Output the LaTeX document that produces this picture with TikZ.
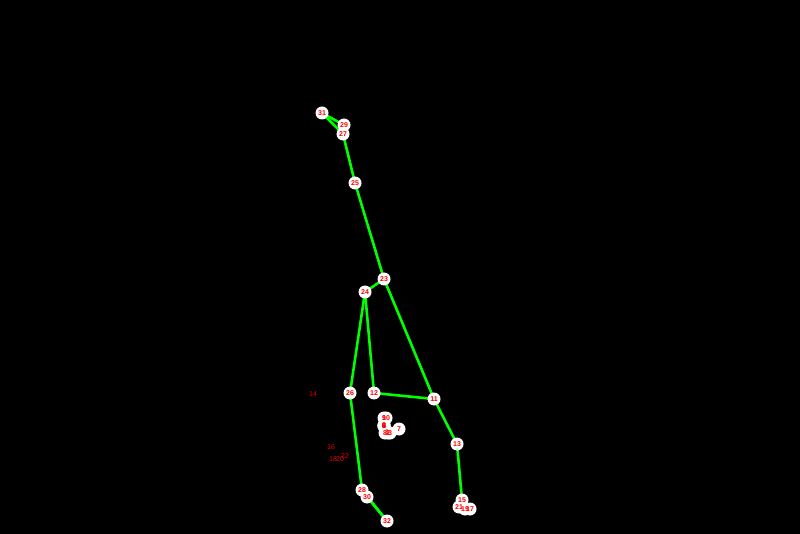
\documentclass[tikz,border=0pt]{standalone}
\usepackage{fontspec}
\setmainfont{Liberation Sans}
\usepackage{tikz}
\usetikzlibrary{positioning}

\begin{document}
\begin{tikzpicture}[x=1pt, y=-1pt]
% STYLES
\tikzset{
    joint/.style={circle, fill=white, minimum size=13pt, inner sep=0pt},
    tag/.style={inner sep=0pt, text=red, font=\fontsize{7}{7}\selectfont\bfseries},
    faded/.style={inner sep=0pt, text=red!92!black, font=\fontsize{7}{7}\selectfont},
    bone/.style={draw=green, line width=2.6pt}
}
\fill[black] (0,0) rectangle (800,534);

% hidden points
\node [faded] (L14) at (313,394) {14};
\node [faded] (L16) at (331,447) {16};
\node [faded] (L18) at (333,459) {18};
\node [faded] (L20) at (340,459) {20};
\node [faded] (L22) at (345,456) {22};

% points
\coordinate (P0) at (384,425);
\coordinate (P1) at (387,432);
\coordinate (P2) at (388,433);
\coordinate (P3) at (390,433);
\coordinate (P4) at (384,426);
\coordinate (P5) at (384,426);
\coordinate (P6) at (384,426);
\coordinate (P7) at (399,429);
\coordinate (P8) at (385,433);
\coordinate (P9) at (384,418);
\coordinate (P10) at (386,418);
\coordinate (P31) at (322,113);
\coordinate (P29) at (344,125);
\coordinate (P27) at (343,134);
\coordinate (P25) at (355,183);
\coordinate (P23) at (384,279);
\coordinate (P24) at (365,292);
\coordinate (P26) at (350,393);
\coordinate (P12) at (374,393);
\coordinate (P11) at (434,399);
\coordinate (P13) at (457,444);
\coordinate (P15) at (462,500);
\coordinate (P21) at (459,507);
\coordinate (P19) at (465,509);
\coordinate (P17) at (470,509);
\coordinate (P28) at (362,490);
\coordinate (P30) at (367,497);
\coordinate (P32) at (387,521);

% bones
\path[bone]
   (P31) edge (P29) (P31) edge (P27) (P29) edge (P27)
   (P27) edge (P25) (P25) edge (P23) (P23) edge (P24)
   (P24) edge (P26) (P24) edge (P12) (P12) edge (P11)
   (P23) edge (P11) (P11) edge (P13) (P13) edge (P15)
   (P15) edge (P21) (P15) edge (P19) (P15) edge (P17) (P19) edge (P17)
   (P26) edge (P28) (P28) edge (P30) (P30) edge (P32) (P28) edge (P32);

% joints, then their numbers on top
\foreach \n in {0,...,13,15,17,19,21,23,24,...,32}
  \node [joint] (J\n) at (P\n) {};
\foreach \n in {0,...,13,15,17,19,21,23,24,...,32}
  \node [tag] (T\n) at (J\n) {\n};

\end{tikzpicture}
\end{document}
